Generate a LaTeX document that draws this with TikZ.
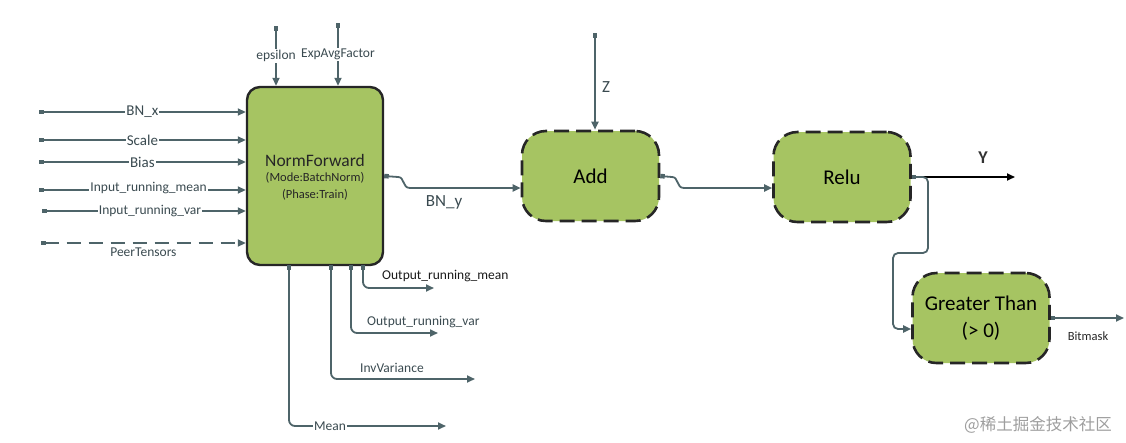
\documentclass[tikz,border=0pt]{standalone}
\usepackage{fontspec}
\setmainfont{Carlito}
\newfontfamily\cjk{Noto Sans CJK SC}
\usetikzlibrary{arrows.meta}
\definecolor{boxgreen}{HTML}{A6C462}
\definecolor{wire}{HTML}{4E6469}
\definecolor{lbl}{HTML}{3A4A50}
\begin{document}
\begin{tikzpicture}[x=1pt,y=-1pt,
  opbox/.style={draw=black!85,line width=2.6pt,fill=boxgreen,rounded corners=24pt,dash pattern=on 15pt off 7pt,minimum width=137pt,minimum height=90pt,inner sep=0pt,font=\fontsize{21}{24}\selectfont,align=center},
  mainbox/.style={draw=black!85,line width=2.4pt,fill=boxgreen,rounded corners=13pt,minimum width=136pt,minimum height=178pt,inner sep=0pt,align=center},
  conn/.style={draw=wire,line width=1.8pt,{Square[length=4.5pt,width=4.5pt]}-{Triangle[length=8pt,width=7pt]}},
  lab/.style={text=lbl,font=\fontsize{15}{17}\selectfont,inner sep=1pt},
  lbw/.style={lab,fill=white},
  slab/.style={text=lbl,font=\fontsize{13.5}{16}\selectfont,inner sep=1pt},
  swl/.style={slab,fill=white}
]
\useasboundingbox (0,0) rectangle (1126,442);

% boxes
\node[mainbox] (norm) at (315,176) {};
\node[text=black!85,font=\fontsize{17.5}{20}\selectfont] (nt1) at (315,160) {NormForward};
\node[text=black!85,font=\fontsize{12.5}{14}\selectfont] (nt2) at (315,178) {(Mode:BatchNorm)};
\node[text=black!85,font=\fontsize{12.5}{14}\selectfont] (nt3) at (315,195) {(Phase:Train)};
\node[opbox] (add) at (590.5,176) {Add};
\node[opbox] (relu) at (842,177) {Relu};
\node[opbox] (gt) at (981,318) {Greater Than\\[3pt](> 0)};

% left inputs
\coordinate (s1) at (39,112);
\coordinate (s2) at (39,140);
\coordinate (s3) at (39,162);
\coordinate (s4) at (39,190);
\coordinate (s5) at (42,211);
\coordinate (s6) at (41,243);
\draw[conn] (s1) -- (s1 -| norm.west) node[midway,lbw] (l1) {BN\_x};
\draw[conn] (s2) -- (s2 -| norm.west) node[midway,lbw] (l2) {Scale};
\draw[conn] (s3) -- (s3 -| norm.west) node[midway,lbw] (l3) {Bias};
\draw[conn] (s4) -- (s4 -| norm.west) node[pos=0.53,swl,yshift=2pt] (l4) {Input\_running\_mean};
\draw[conn] (s5) -- (s5 -| norm.west) node[pos=0.53,swl] (l5) {Input\_running\_var};
\draw[conn,dash pattern=on 14pt off 8pt] (s6) -- (s6 -| norm.west) node[midway,slab,anchor=north,yshift=-3pt] (l6) {PeerTensors};

% top inputs
\coordinate (t1) at (276,26);
\coordinate (t2) at (338,23);
\draw[conn] (t1) -- (t1 |- norm.north) node[pos=0.5,swl] (l7) {epsilon};
\draw[conn] (t2) -- (t2 |- norm.north) node[pos=0.5,swl] (l8) {ExpAvgFactor};

% bottom outputs
\coordinate (p1) at (363,265);
\coordinate (p2) at (351,265);
\coordinate (p3) at (331,265);
\coordinate (p4) at (289,265);
\coordinate (e1) at (434,288);
\coordinate (e2) at (438,333);
\coordinate (e3) at (475,379);
\coordinate (e4) at (446,426);
\draw[conn,rounded corners=6pt] (p1) |- (e1);
\draw[conn,rounded corners=6pt] (p2) |- (e2);
\draw[conn,rounded corners=6pt] (p3) |- (e3);
\draw[conn,rounded corners=6pt] (p4) |- (e4);
\node[slab,text=black!90,anchor=west] (o1) at (381,276) {Output\_running\_mean};
\node[slab,anchor=west] (o2) at (366,322) {Output\_running\_var};
\node[slab,anchor=west] (o3) at (359,368) {InvVariance};
\node[swl] (o4) at (330,426) {Mean};

% BN_y
\draw[conn] (norm.east) -- (398,177) .. controls (405,177) and (402,188) .. (410,188) -- ([yshift=-12pt]add.west);
\node[lab,font=\fontsize{17}{19}\selectfont] (bny) at (444,202) {BN\_y};

% Z
\coordinate (z0) at (595,33);
\draw[conn] (z0) -- (z0 |- add.north);
\node[lab,font=\fontsize{17}{19}\selectfont] (zl) at (606,87) {Z};

% Add -> Relu
\draw[conn] (add.east) -- (672,177) .. controls (679,177) and (676,188) .. (684,188) -- ([yshift=-11pt]relu.west);

% Y
\coordinate (y1) at (1015,177);
\draw[conn,draw=black,-{Triangle[length=8pt,width=7pt]}] (relu.east) -- (y1);
\node[lab,text=black!80,font=\bfseries\fontsize{18}{20}\selectfont] (yl) at (983,158) {Y};

% Relu -> Greater Than
\draw[conn,rounded corners=5pt] (relu.east) -- (928,177) -- (928,253) -- (893,253) -- (893,329) -- ([yshift=-11pt]gt.west);

% Bitmask
\coordinate (b1) at (1124,318);
\draw[conn] (gt.east) -- (b1);
\node[text=black!85,font=\fontsize{12.5}{14}\selectfont] (bl) at (1088,336) {Bitmask};

% watermark
\node[text=black!38,font=\cjk\fontsize{16.5}{18}\selectfont] (wm) at (1038,425) {@稀土掘金技术社区};
\end{tikzpicture}
\end{document}
